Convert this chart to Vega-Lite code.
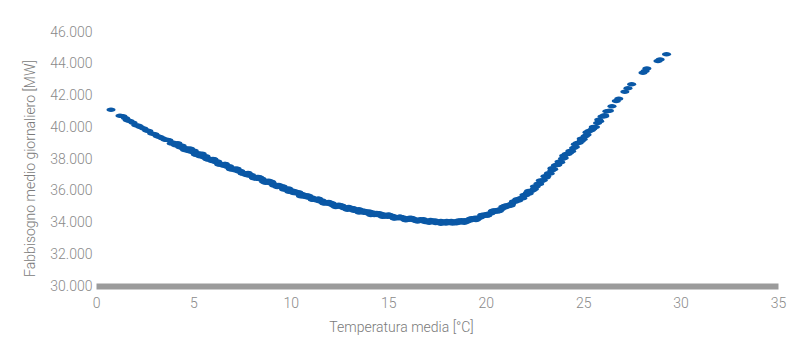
{
  "$schema": "https://vega.github.io/schema/vega-lite/v6.json",
  "autosize": "none",
  "width": 682,
  "height": 254,
  "padding": {"left": 96, "top": 32, "right": 22, "bottom": 68},
  "background": "white",
  "config": {
    "view": {"stroke": null},
    "axis": {"grid": false, "ticks": false, "labelFont": "Roboto", "titleFont": "Roboto", "labelFontWeight": 300, "titleFontWeight": 300, "labelColor": "#8a8a8a", "titleColor": "#7a7a7a", "labelFontSize": 14, "titleFontSize": 14}
  },
  "data": {"values": [
    {"t":0.77,"mw":41110},{"t":1.23,"mw":40730},{"t":1.38,"mw":40690},{"t":1.52,"mw":40560},{"t":1.61,"mw":40440},{"t":1.74,"mw":40400},{"t":1.9,"mw":40290},{"t":2.05,"mw":40130},{"t":2.18,"mw":40100},{"t":2.27,"mw":40010},
    {"t":2.45,"mw":39920},{"t":2.6,"mw":39790},{"t":2.71,"mw":39760},{"t":2.86,"mw":39600},{"t":3.02,"mw":39560},{"t":3.15,"mw":39430},{"t":3.28,"mw":39390},{"t":3.4,"mw":39300},{"t":3.55,"mw":39210},{"t":3.63,"mw":39220},
    {"t":3.74,"mw":39180},{"t":3.86,"mw":38970},{"t":3.97,"mw":39020},{"t":4.08,"mw":38860},{"t":4.2,"mw":38990},{"t":4.31,"mw":38740},{"t":4.42,"mw":38840},{"t":4.55,"mw":38570},{"t":4.63,"mw":38680},{"t":4.74,"mw":38510},
    {"t":4.85,"mw":38640},{"t":4.93,"mw":38440},{"t":5.04,"mw":38520},{"t":5.14,"mw":38260},{"t":5.25,"mw":38360},{"t":5.33,"mw":38180},{"t":5.45,"mw":38330},{"t":5.56,"mw":38090},{"t":5.64,"mw":38180},{"t":5.75,"mw":37970},
    {"t":5.86,"mw":38000},{"t":5.95,"mw":37880},{"t":6.05,"mw":37980},{"t":6.16,"mw":37790},{"t":6.24,"mw":37850},{"t":6.35,"mw":37650},{"t":6.46,"mw":37680},{"t":6.55,"mw":37580},{"t":6.64,"mw":37680},{"t":6.76,"mw":37490},
    {"t":6.85,"mw":37540},{"t":6.94,"mw":37360},{"t":7.05,"mw":37400},{"t":7.13,"mw":37290},{"t":7.24,"mw":37380},{"t":7.33,"mw":37210},{"t":7.42,"mw":37250},{"t":7.52,"mw":37080},{"t":7.6,"mw":37120},{"t":7.71,"mw":36990},
    {"t":7.8,"mw":37110},{"t":7.88,"mw":36950},{"t":7.97,"mw":37000},{"t":8.08,"mw":36820},{"t":8.16,"mw":36860},{"t":8.25,"mw":36750},{"t":8.33,"mw":36870},{"t":8.42,"mw":36720},{"t":8.51,"mw":36760},{"t":8.6,"mw":36570},
    {"t":8.68,"mw":36630},{"t":8.77,"mw":36530},{"t":8.86,"mw":36630},{"t":8.95,"mw":36480},{"t":9.03,"mw":36520},{"t":9.12,"mw":36330},{"t":9.2,"mw":36380},{"t":9.29,"mw":36290},{"t":9.38,"mw":36370},{"t":9.46,"mw":36240},
    {"t":9.55,"mw":36270},{"t":9.63,"mw":36080},{"t":9.71,"mw":36130},{"t":9.8,"mw":36050},{"t":9.88,"mw":36140},{"t":9.97,"mw":35980},{"t":10.06,"mw":36020},{"t":10.14,"mw":35860},{"t":10.23,"mw":35900},{"t":10.31,"mw":35820},
    {"t":10.4,"mw":35910},{"t":10.48,"mw":35750},{"t":10.57,"mw":35800},{"t":10.65,"mw":35640},{"t":10.74,"mw":35690},{"t":10.82,"mw":35590},{"t":10.91,"mw":35690},{"t":10.99,"mw":35540},{"t":11.08,"mw":35580},{"t":11.17,"mw":35430},
    {"t":11.25,"mw":35480},{"t":11.34,"mw":35380},{"t":11.42,"mw":35490},{"t":11.51,"mw":35330},{"t":11.6,"mw":35390},{"t":11.68,"mw":35230},{"t":11.77,"mw":35280},{"t":11.85,"mw":35200},{"t":11.94,"mw":35290},{"t":12.03,"mw":35150},
    {"t":12.11,"mw":35210},{"t":12.2,"mw":35050},{"t":12.29,"mw":35100},{"t":12.37,"mw":35020},{"t":12.46,"mw":35120},{"t":12.54,"mw":35000},{"t":12.63,"mw":35040},{"t":12.72,"mw":34890},{"t":12.8,"mw":34940},{"t":12.89,"mw":34870},
    {"t":12.97,"mw":34970},{"t":13.06,"mw":34840},{"t":13.15,"mw":34900},{"t":13.23,"mw":34740},{"t":13.32,"mw":34800},{"t":13.41,"mw":34730},{"t":13.49,"mw":34830},{"t":13.58,"mw":34690},{"t":13.67,"mw":34760},{"t":13.75,"mw":34620},
    {"t":13.84,"mw":34670},{"t":13.93,"mw":34590},{"t":14.01,"mw":34700},{"t":14.1,"mw":34580},{"t":14.19,"mw":34630},{"t":14.28,"mw":34480},{"t":14.36,"mw":34540},{"t":14.45,"mw":34470},{"t":14.54,"mw":34580},{"t":14.62,"mw":34460},
    {"t":14.71,"mw":34520},{"t":14.8,"mw":34380},{"t":14.89,"mw":34430},{"t":14.97,"mw":34370},{"t":15.06,"mw":34480},{"t":15.15,"mw":34360},{"t":15.24,"mw":34410},{"t":15.32,"mw":34270},{"t":15.41,"mw":34320},{"t":15.5,"mw":34270},
    {"t":15.59,"mw":34370},{"t":15.67,"mw":34260},{"t":15.76,"mw":34320},{"t":15.85,"mw":34180},{"t":15.94,"mw":34230},{"t":16.03,"mw":34180},{"t":16.11,"mw":34300},{"t":16.2,"mw":34180},{"t":16.29,"mw":34240},{"t":16.38,"mw":34110},
    {"t":16.46,"mw":34160},{"t":16.55,"mw":34110},{"t":16.64,"mw":34210},{"t":16.73,"mw":34100},{"t":16.82,"mw":34160},{"t":16.9,"mw":34030},{"t":16.99,"mw":34080},{"t":17.08,"mw":34040},{"t":17.17,"mw":34150},{"t":17.26,"mw":34040},
    {"t":17.34,"mw":34100},{"t":17.43,"mw":33970},{"t":17.52,"mw":34020},{"t":17.61,"mw":33990},{"t":17.7,"mw":34090},{"t":17.78,"mw":33990},{"t":17.87,"mw":34050},{"t":17.96,"mw":33940},{"t":18.05,"mw":34010},{"t":18.14,"mw":33970},
    {"t":18.23,"mw":34090},{"t":18.31,"mw":34000},{"t":18.4,"mw":34070},{"t":18.49,"mw":33960},{"t":18.58,"mw":34030},{"t":18.67,"mw":34000},{"t":18.75,"mw":34140},{"t":18.84,"mw":34050},{"t":18.93,"mw":34140},{"t":19.02,"mw":34040},
    {"t":19.11,"mw":34140},{"t":19.2,"mw":34120},{"t":19.29,"mw":34270},{"t":19.37,"mw":34200},{"t":19.46,"mw":34300},{"t":19.55,"mw":34210},{"t":19.64,"mw":34320},{"t":19.72,"mw":34310},{"t":19.81,"mw":34470},{"t":19.9,"mw":34410},
    {"t":19.99,"mw":34520},{"t":20.08,"mw":34440},{"t":20.17,"mw":34560},{"t":20.26,"mw":34560},{"t":20.34,"mw":34720},{"t":20.43,"mw":34660},{"t":20.52,"mw":34770},{"t":20.61,"mw":34700},{"t":20.7,"mw":34820},{"t":20.79,"mw":34830},
    {"t":20.88,"mw":35000},{"t":20.97,"mw":34950},{"t":21.06,"mw":35070},{"t":21.15,"mw":35020},{"t":21.24,"mw":35130},{"t":21.33,"mw":35160},{"t":21.42,"mw":35330},{"t":21.51,"mw":35300},{"t":21.6,"mw":35420},{"t":21.69,"mw":35380},
    {"t":21.78,"mw":35520},{"t":21.87,"mw":35550},{"t":21.96,"mw":35730},{"t":22.05,"mw":35720},{"t":22.14,"mw":35870},{"t":22.23,"mw":35820},{"t":22.32,"mw":35990},{"t":22.41,"mw":36030},{"t":22.5,"mw":36260},{"t":22.59,"mw":36260},
    {"t":22.68,"mw":36440},{"t":22.77,"mw":36420},{"t":22.86,"mw":36610},{"t":22.95,"mw":36660},{"t":23.04,"mw":36910},{"t":23.13,"mw":36910},{"t":23.22,"mw":37110},{"t":23.31,"mw":37090},{"t":23.4,"mw":37290},{"t":23.49,"mw":37360},
    {"t":23.58,"mw":37610},{"t":23.67,"mw":37620},{"t":23.76,"mw":37820},{"t":23.85,"mw":37790},{"t":23.94,"mw":38010},{"t":24.03,"mw":38070},{"t":24.13,"mw":38320},{"t":24.22,"mw":38320},{"t":24.32,"mw":38510},{"t":24.41,"mw":38490},
    {"t":24.51,"mw":38690},{"t":24.6,"mw":38760},{"t":24.7,"mw":39010},{"t":24.8,"mw":39030},{"t":24.9,"mw":39270},{"t":25.0,"mw":39250},{"t":25.1,"mw":39430},{"t":25.2,"mw":39520},{"t":25.3,"mw":39770},{"t":25.41,"mw":39810},
    {"t":25.52,"mw":40020},{"t":25.63,"mw":40020},{"t":25.74,"mw":40260},{"t":25.85,"mw":40380},{"t":25.97,"mw":40680},{"t":26.1,"mw":40760},{"t":26.22,"mw":41010},{"t":26.35,"mw":41040},{"t":26.48,"mw":41320},{"t":26.7,"mw":41650},
    {"t":26.83,"mw":41790},{"t":27.14,"mw":42240},{"t":27.3,"mw":42450},{"t":27.49,"mw":42710},{"t":28.07,"mw":43430},{"t":28.18,"mw":43540},{"t":28.27,"mw":43700},{"t":28.84,"mw":44180},{"t":28.95,"mw":44270},{"t":29.28,"mw":44600},
    {"t":4.5,"mw":38640},{"t":4.8,"mw":38640},{"t":5.1,"mw":38290},{"t":5.4,"mw":38300},{"t":5.7,"mw":37980},{"t":6.0,"mw":38000},{"t":6.3,"mw":37660},{"t":6.6,"mw":37680},{"t":6.9,"mw":37350},{"t":7.2,"mw":37390},
    {"t":7.5,"mw":37080},{"t":7.8,"mw":37120},{"t":8.1,"mw":36790},{"t":8.4,"mw":36830},{"t":8.7,"mw":36510},{"t":9.0,"mw":36560},{"t":9.3,"mw":36240},{"t":9.6,"mw":36270},{"t":9.9,"mw":35940},{"t":10.2,"mw":35970},
    {"t":10.5,"mw":35660},{"t":10.8,"mw":35720},{"t":11.1,"mw":35430},{"t":11.4,"mw":35490},{"t":11.7,"mw":35190},{"t":12.0,"mw":35250},{"t":12.3,"mw":34970},{"t":12.6,"mw":35070},{"t":12.9,"mw":34810},{"t":13.2,"mw":34900},
    {"t":13.5,"mw":34630},{"t":13.8,"mw":34730},{"t":14.1,"mw":34480},{"t":14.4,"mw":34600},{"t":14.7,"mw":34370},{"t":15.0,"mw":34500},{"t":15.3,"mw":34250},{"t":15.6,"mw":34360},{"t":15.9,"mw":34140},{"t":16.2,"mw":34280},
    {"t":16.5,"mw":34070},{"t":16.8,"mw":34210},{"t":17.1,"mw":33980},{"t":17.4,"mw":34120},{"t":17.7,"mw":33920},{"t":18.0,"mw":34090},{"t":18.3,"mw":33930},{"t":18.6,"mw":34130},{"t":18.9,"mw":33990},{"t":19.2,"mw":34240},
    {"t":19.5,"mw":34150},{"t":19.8,"mw":34470},{"t":20.1,"mw":34440},{"t":20.4,"mw":34750},{"t":20.7,"mw":34720},{"t":21.0,"mw":35060},{"t":21.3,"mw":35070},{"t":21.6,"mw":35470},{"t":21.9,"mw":35520},{"t":22.2,"mw":35990},
    {"t":22.5,"mw":36110},{"t":22.8,"mw":36640},{"t":23.1,"mw":36830},{"t":23.4,"mw":37410},{"t":23.7,"mw":37630},{"t":24.0,"mw":38200},{"t":24.3,"mw":38390},{"t":24.6,"mw":38930},{"t":24.9,"mw":39130},{"t":25.2,"mw":39690},
    {"t":25.5,"mw":39900},{"t":25.8,"mw":40480},{"t":26.1,"mw":40700}
  ]},
  "mark": {"type": "point", "filled": true, "opacity": 1, "color": "#0a58a6", "size": 81, "shape": "M-1,0A1,0.5,0,1,0,1,0A1,0.5,0,1,0,-1,0Z"},
  "encoding": {
    "x": {"field": "t", "type": "quantitative", "scale": {"domain": [0, 35], "nice": false, "zero": false},
      "axis": {"values": [0,5,10,15,20,25,30,35], "title": "Temperatura media [°C]", "titleX": 305, "domain": true, "domainColor": "#9b9b9b", "domainWidth": 6, "labelPadding": 10, "titlePadding": 10, "labelFlush": false}},
    "y": {"field": "mw", "type": "quantitative", "scale": {"domain": [30000, 46000], "nice": false, "zero": false},
      "axis": {"values": [30000,32000,34000,36000,38000,40000,42000,44000,46000], "title": "Fabbisogno medio giornaliero [MW]", "titleY": 136, "domain": false, "labelPadding": 4, "titlePadding": 12, "labelExpr": "replace(format(datum.value, ','), ',', '.')"}}
  }
}
